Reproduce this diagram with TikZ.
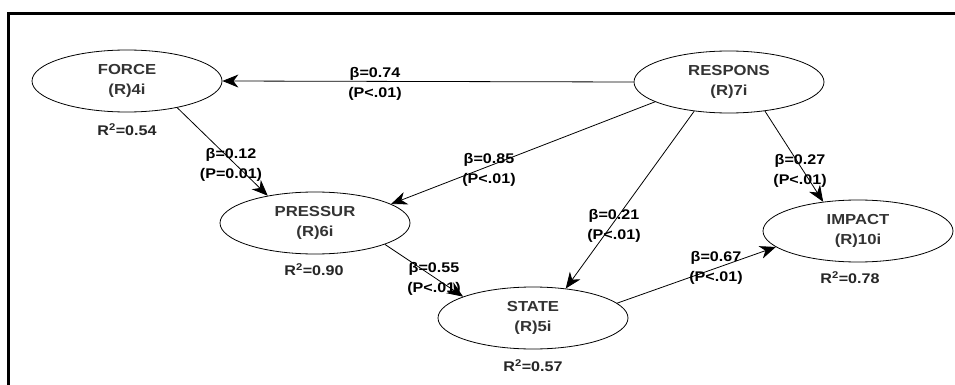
\documentclass[tikz,border=0pt]{standalone}
\usepackage{fontspec}
\setmainfont[FakeStretch=1.15]{Liberation Sans}
\usetikzlibrary{arrows.meta,shapes.geometric}
\tikzset{
  latent/.style={ellipse,draw=black,line width=0.8pt,minimum width=190pt,minimum height=62pt,inner sep=0pt,align=center,text=black!80,font=\bfseries\fontsize{14.5}{20}\selectfont},
  coef/.style={align=center,inner sep=0pt,text=black,font=\bfseries\fontsize{14}{19.5}\selectfont},
  rsq/.style={inner sep=0pt,text=black!85,font=\bfseries\fontsize{14}{19}\selectfont},
  path/.style={line width=0.8pt,-{Stealth[length=16pt,width=13pt,inset=5pt]}},
  frame/.style={line width=3pt}
}
\begin{document}
\begin{tikzpicture}[x=1pt,y=-1pt]
\useasboundingbox (0,0) rectangle (955,385);
\fill[white] (0,0) rectangle (955,385);
\draw[frame] (8,386) -- (8,13.5) -- (956,13.5);

\node[latent] (force)   at (127,81)  {FORCE\\(R)4i};
\node[latent] (respons) at (729,82)  {RESPONS\\(R)7i};
\node[latent] (pressur) at (315,223) {PRESSUR\\(R)6i};
\node[latent] (state)   at (533,318) {STATE\\(R)5i};
\node[latent] (impact)  at (858,231) {IMPACT\\(R)10i};

\node[rsq] (r1) at (127,130) {R\textsuperscript{2}=0.54};
\node[rsq] (r2) at (314,270) {R\textsuperscript{2}=0.90};
\node[rsq] (r3) at (533,366) {R\textsuperscript{2}=0.57};
\node[rsq] (r4) at (850,278) {R\textsuperscript{2}=0.78};

\draw[path] (respons.west) -- (force.east);
\draw[path] (force.-28) -- (pressur.150);
\draw[path] (respons.195) -- (pressur.14);
\draw[path] (respons.220) -- (state.42);
\draw[path] (respons.-39) -- (impact.140);
\draw[path] (pressur.-17) -- (state.163);
\draw[path] (state.10) -- (impact.191);

\node[coef] (c1) at (375,84)  {β=0.74\\(P<.01)};
\node[coef] (c2) at (231,165) {β=0.12\\(P=0.01)};
\node[coef] (c3) at (489,170) {β=0.85\\(P<.01)};
\node[coef] (c4) at (614,226) {β=0.21\\(P<.01)};
\node[coef] (c5) at (800,171) {β=0.27\\(P<.01)};
\node[coef] (c6) at (434,279) {β=0.55\\(P<.01)};
\node[coef] (c7) at (716,268) {β=0.67\\(P<.01)};
\end{tikzpicture}
\end{document}
